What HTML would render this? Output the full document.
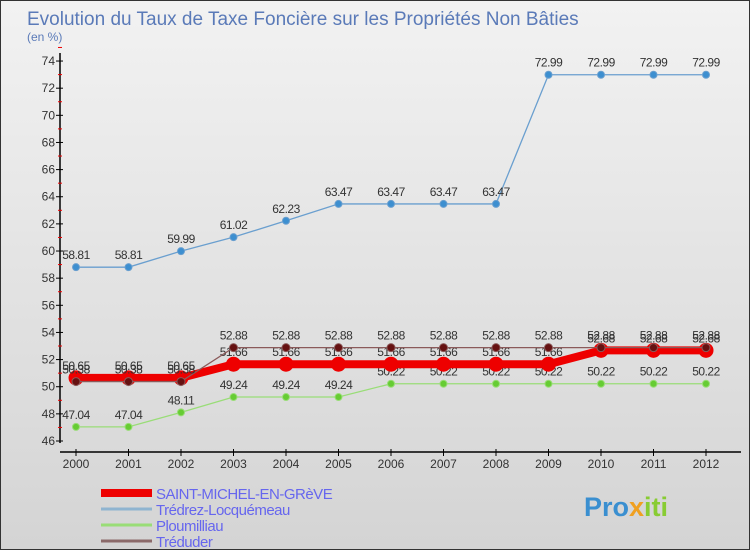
<!DOCTYPE html>
<html><head><meta charset="utf-8"><style>
body{margin:0;width:750px;height:550px;overflow:hidden;font-family:"Liberation Sans",sans-serif}
#wrap{position:relative;width:748px;height:548px;border:1px solid #333;background:linear-gradient(#f2f2f2,#d4d4d4)}
</style></head><body>
<div id="wrap">
<svg id="chart" width="748" height="548"></svg>
</div>
<script>
const years=[2000,2001,2002,2003,2004,2005,2006,2007,2008,2009,2010,2011,2012];
const yTicks=[46,48,50,52,54,56,58,60,62,64,66,68,70,72,74];
const smeg=[50.65,50.65,50.65,51.66,51.66,51.66,51.66,51.66,51.66,51.66,52.68,52.68,52.68];
const tredrez=[58.81,58.81,59.99,61.02,62.23,63.47,63.47,63.47,63.47,72.99,72.99,72.99,72.99];
const ploum=[47.04,47.04,48.11,49.24,49.24,49.24,50.22,50.22,50.22,50.22,50.22,50.22,50.22];
const treduder=[50.38,50.38,50.38,52.88,52.88,52.88,52.88,52.88,52.88,52.88,52.88,52.88,52.88];
const NS='http://www.w3.org/2000/svg';
const svg=document.getElementById('chart');
const X=i=>75+i*52.5;
const Y=v=>440-(v-46)*13.57;
function el(t,a,p){const e=document.createElementNS(NS,t);for(const k in a)e.setAttribute(k,a[k]);(p||svg).appendChild(e);return e;}
let t=el('text',{x:26,y:24,'font-size':19,fill:'#5a7ab8'});t.textContent='Evolution du Taux de Taxe Foncière sur les Propriétés Non Bâties';


t=el('text',{x:26,y:40,'font-size':12,fill:'#5a7ab8'});t.textContent='(en %)';


let a=el('line',{x1:59,y1:52,x2:59,y2:442,stroke:'#000','stroke-width':1.5});


a=el('line',{x1:59,y1:451,x2:740,y2:451,stroke:'#000','stroke-width':1.5});


yTicks.forEach(v=>{
 el('line',{x1:55,x2:62,y1:Y(v),y2:Y(v),stroke:'#000'});
 el('line',{x1:57,x2:61,y1:Y(v+1),y2:Y(v+1),stroke:'#e00'});
 const l=el('text',{x:54,y:Y(v)+4,'font-size':12,fill:'#333','text-anchor':'end'});l.textContent=v;
 
 
});
years.forEach((y,i)=>{
 el('line',{x1:X(i),x2:X(i),y1:448,y2:455,stroke:'#000'});
 const l=el('text',{x:X(i),y:467,'font-size':12,fill:'#333','text-anchor':'middle'});l.textContent=y;
 
 
});
function series(d,color,w,r,fill,name){
 const p=el('polyline',{points:d.map((v,i)=>X(i)+','+Y(v)).join(' '),fill:'none',stroke:color,'stroke-width':w});
 
 
 d.forEach((v,i)=>{
  const c=el('circle',{cx:X(i),cy:Y(v),r:r,fill:fill,stroke:color,'stroke-width':1});
  
  
  const l=el('text',{x:X(i),y:Y(v)-8,'font-size':12,fill:'#333','text-anchor':'middle','letter-spacing':'-0.5'});l.textContent=v.toFixed(2);
  
  
 });
}
series(tredrez,'#6a9fcf',1.3,3.5,'#3d8fd0','tredrez');
series(ploum,'#99dd77',1.3,3.5,'#66cc33','ploumilliau');
series(smeg,'#ee0000',8,7,'#ee0000','saint-michel');
series(treduder,'#8b5a5a',1.3,4,'#661111','treduder');
const leg=[['SAINT-MICHEL-EN-GRèVE','#ee0000',8],['Trédrez-Locquémeau','#8fb4d0',3],['Ploumilliau','#99dd77',3],['Tréduder','#8b6a6a',3]];
leg.forEach((L,i)=>{
 const y=492+i*16;
 const g=el('g',{});
 
 
 el('line',{x1:100,x2:151,y1:y,y2:y,stroke:L[1],'stroke-width':L[2]},g);
 const tx=el('text',{x:155,y:y+6,'font-size':15,fill:'#6666ee','letter-spacing':'-0.5'},g);tx.textContent=L[0];
});
t=el('text',{x:583,y:515,'font-size':27,'font-weight':'bold'});


el('tspan',{fill:'#3a8fd0'},t).textContent='Pro';
el('tspan',{fill:'#f0a020'},t).textContent='x';
el('tspan',{fill:'#88cc33'},t).textContent='iti';
</script>
</body></html>
